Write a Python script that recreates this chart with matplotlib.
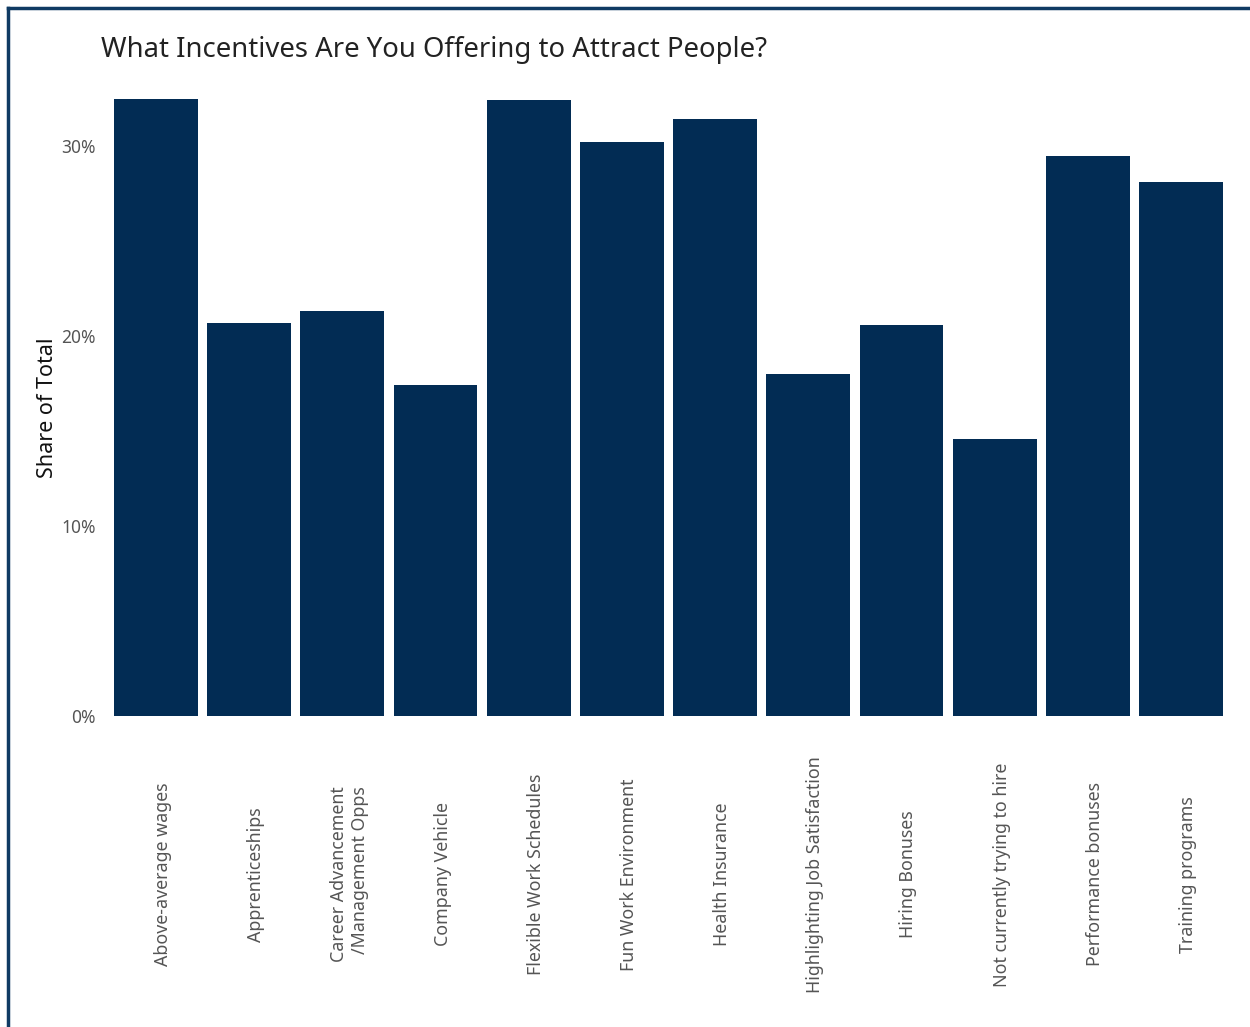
import matplotlib
matplotlib.use("Agg")
import matplotlib.pyplot as plt
from matplotlib.lines import Line2D
from matplotlib.ticker import PercentFormatter
from matplotlib.transforms import ScaledTranslation

# incentive categories and their share of respondents
categories = [
    "Above-average wages",
    "Apprenticeships",
    "Career Advancement\n/Management Opps",
    "Company Vehicle",
    "Flexible Work Schedules",
    "Fun Work Environment",
    "Health Insurance",
    "Highlighting Job Satisfaction",
    "Hiring Bonuses",
    "Not currently trying to hire",
    "Performance bonuses",
    "Training programs",
]
shares = [0.325, 0.207, 0.213, 0.174, 0.324, 0.302, 0.314, 0.180, 0.206, 0.146, 0.295, 0.281]
y_ticks = [0.0, 0.1, 0.2, 0.3]

BAR_COLOR = "#022c54"
FRAME_COLOR = "#0f3a63"
TICK_COLOR = "#555555"

plt.rcParams["font.family"] = ["Noto Sans", "DejaVu Sans"]

W, H = 1250, 1027
fig = plt.figure(figsize=(W / 100, H / 100), dpi=100)

# panel: left 100px, right 1237px, bottom 716px, top ~80px
left, right, bottom, top = 100, 1237, 716, 80
ax = fig.add_axes([left / W, 1 - bottom / H, (right - left) / W, (bottom - top) / H])

x = range(len(categories))
ax.bar(x, shares, width=0.9, color=BAR_COLOR)

ax.set_xlim(-0.6, len(categories) - 0.4)
ax.set_ylim(0, (bottom - top) / 1900)
ax.set_yticks(y_ticks)
ax.yaxis.set_major_formatter(PercentFormatter(1.0, decimals=0))

ax.set_xticks(list(x))
ax.set_xticklabels(categories, rotation=90, va="center", ha="center",
                   multialignment="right", fontsize=12.8, color=TICK_COLOR)
ax.tick_params(axis="x", length=0, pad=114)
ax.tick_params(axis="y", length=0, pad=3, labelsize=12.5, labelcolor=TICK_COLOR)

# nudge the rotated category labels a little to the right of bar centres
shift = ScaledTranslation(7 / 100, 0, fig.dpi_scale_trans)
for lbl in ax.get_xticklabels():
    lbl.set_transform(lbl.get_transform() + shift)

for s in ax.spines.values():
    s.set_visible(False)

ax.set_ylabel("Share of Total", fontsize=15.5, color="#111111")
ax.yaxis.set_label_coords((58 - left) / (right - left), 0.485)

fig.text(101 / W, 1 - 57 / H, "What Incentives Are You Offering to Attract People?",
         fontsize=19.8, color="#222222", ha="left", va="baseline")

# thin navy frame along the top and left edges
fig.add_artist(Line2D([8 / W, 8 / W], [0, 1 - 8 / H], transform=fig.transFigure,
                      color=FRAME_COLOR, lw=2.5))
fig.add_artist(Line2D([8 / W, 1], [1 - 8 / H, 1 - 8 / H], transform=fig.transFigure,
                      color=FRAME_COLOR, lw=2.5))

fig.savefig("out.png", dpi=100)
